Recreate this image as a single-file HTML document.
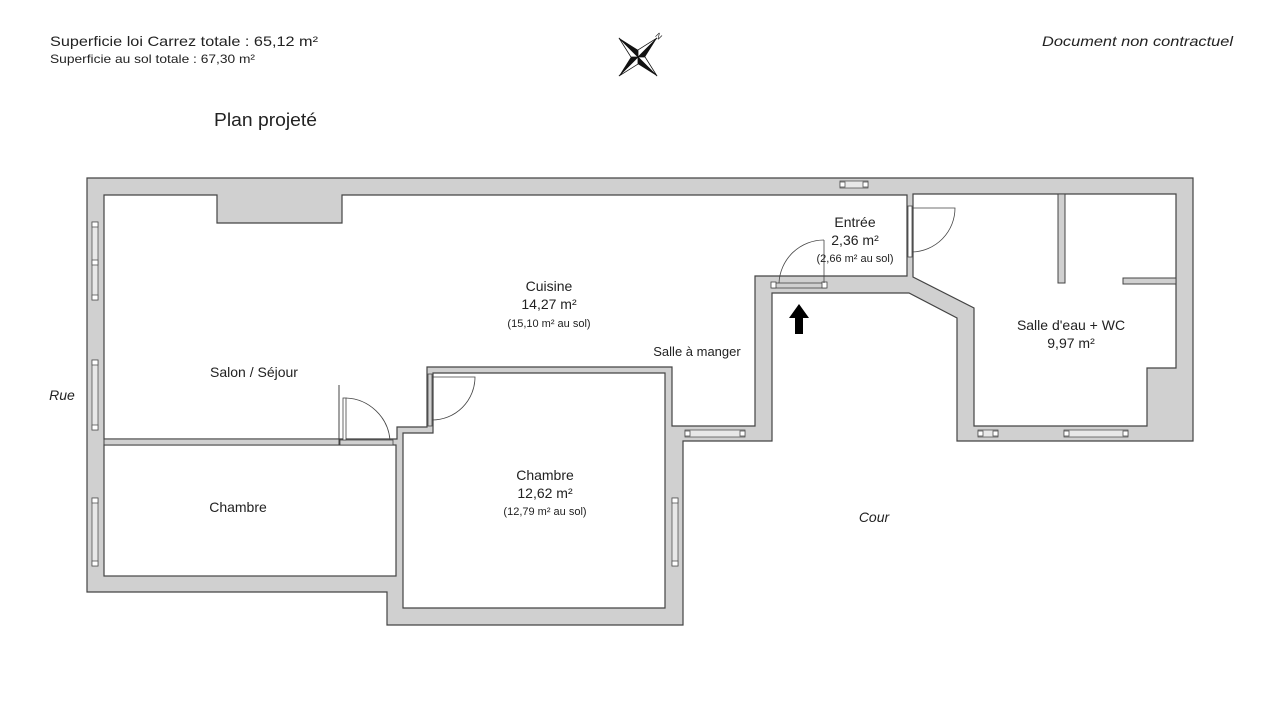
<!DOCTYPE html>
<html><head><meta charset="utf-8"><style>
html,body{margin:0;padding:0;background:#fff;}
svg{display:block;}
text{font-family:"Liberation Sans",sans-serif;fill:#222;}
</style></head><body>
<svg width="1280" height="720" viewBox="0 0 1280 720" xmlns="http://www.w3.org/2000/svg">
<rect width="1280" height="720" fill="#fff"/>
<!-- header -->
<text x="50" y="46" font-size="14" textLength="268" lengthAdjust="spacingAndGlyphs">Superficie loi Carrez totale :  65,12 m²</text>
<text x="50" y="63" font-size="12" textLength="205" lengthAdjust="spacingAndGlyphs">Superficie au sol totale :  67,30 m²</text>
<text x="1233" y="46" font-size="14" font-style="italic" text-anchor="end" textLength="191" lengthAdjust="spacingAndGlyphs">Document non contractuel</text>
<text x="214" y="126" font-size="18" textLength="103" lengthAdjust="spacingAndGlyphs">Plan projeté</text>
<!-- compass -->
<g transform="translate(638,57) rotate(45)">
<polygon points="0,-27 5,-5 0,0" fill="#111"/><polygon points="0,-27 -5,-5 0,0" fill="#fff" stroke="#111" stroke-width="0.8"/>
<polygon points="0,27 -5,5 0,0" fill="#111"/><polygon points="0,27 5,5 0,0" fill="#fff" stroke="#111" stroke-width="0.8"/>
<polygon points="27,0 5,5 0,0" fill="#111"/><polygon points="27,0 5,-5 0,0" fill="#fff" stroke="#111" stroke-width="0.8"/>
<polygon points="-27,0 -5,-5 0,0" fill="#111"/><polygon points="-27,0 -5,5 0,0" fill="#fff" stroke="#111" stroke-width="0.8"/>
</g>
<text x="656" y="39" font-size="8" transform="rotate(45 659 36)">N</text>

<!-- outer walls -->
<polygon points="87,178 1193,178 1193,441 957,441 957,318 909,293 772,293 772,441 683,441 683,625 387,625 387,592 87,592" fill="#d0d0d0" stroke="#444" stroke-width="1.2"/>
<!-- main room -->
<polygon points="104,195 217,195 217,223 342,223 342,195 907,195 907,276 755,276 755,426 683,426 672,426 672,367 427,367 427,427 397,427 397,439 104,439" fill="#fff" stroke="#444" stroke-width="1.2"/>
<!-- chambre 1 -->
<rect x="104" y="445" width="292" height="131" fill="#fff" stroke="#444" stroke-width="1.2"/>
<!-- chambre 2 -->
<polygon points="433,373 665,373 665,608 403,608 403,433 433,433" fill="#fff" stroke="#444" stroke-width="1.2"/>
<!-- bathroom -->
<polygon points="913,194 1176,194 1176,368 1147,368 1147,426 974,426 974,308 913,277" fill="#fff" stroke="#444" stroke-width="1.2"/>
<rect x="1058" y="194" width="7" height="89" fill="#d0d0d0" stroke="#444" stroke-width="1"/>
<rect x="1123" y="278" width="53" height="6" fill="#d0d0d0" stroke="#444" stroke-width="1"/>
<!-- salon/chambre partition -->
<rect x="104" y="439" width="236" height="6" fill="#d0d0d0" stroke="#444" stroke-width="1"/>
<!-- salon door -->
<line x1="339" y1="385" x2="339" y2="445" stroke="#444" stroke-width="1"/>
<rect x="340" y="440" width="53" height="5" fill="#d0d0d0" stroke="#444" stroke-width="0.8"/>
<rect x="343" y="398" width="3" height="42" fill="#fff" stroke="#444" stroke-width="0.8"/>
<path d="M346,398 A46,46 0 0 1 390,440" fill="none" stroke="#444" stroke-width="0.8"/>
<!-- chambre2 door -->
<rect x="428" y="374" width="4" height="52" fill="#d0d0d0" stroke="#444" stroke-width="0.8"/>
<path d="M432,377 L475,377 A43,43 0 0 1 432,420" fill="none" stroke="#444" stroke-width="0.8"/>
<!-- entrée/bath door -->
<rect x="908" y="206" width="4" height="51" fill="#fff" stroke="#444" stroke-width="0.8"/>
<path d="M912,208 L955,208 A44,44 0 0 1 912,252" fill="none" stroke="#444" stroke-width="0.8"/>
<!-- entry door -->
<rect x="772" y="283" width="54" height="5" fill="#d0d0d0" stroke="#444" stroke-width="0.8"/>
<rect x="771" y="282" width="5" height="6" fill="#fff" stroke="#444" stroke-width="0.8"/>
<rect x="822" y="282" width="5" height="6" fill="#fff" stroke="#444" stroke-width="0.8"/>
<line x1="824" y1="240" x2="824" y2="283" stroke="#444" stroke-width="0.8"/>
<path d="M824,240 A45,45 0 0 0 779,283" fill="none" stroke="#444" stroke-width="0.8"/>
<!-- windows -->
<g fill="#e8e8e8" stroke="#555" stroke-width="0.8">
<rect x="92" y="222" width="6" height="78"/><rect x="92" y="360" width="6" height="70"/>
<rect x="92" y="498" width="6" height="68"/><rect x="672" y="498" width="6" height="68"/>
<rect x="840" y="181" width="28" height="7"/>
<rect x="685" y="430" width="60" height="7"/>
<rect x="978" y="430" width="20" height="7"/><rect x="1064" y="430" width="64" height="7"/>
</g>
<g fill="#fff" stroke="#555" stroke-width="0.8">
<rect x="92" y="222" width="6" height="5"/><rect x="92" y="260" width="6" height="5"/><rect x="92" y="295" width="6" height="5"/>
<rect x="92" y="360" width="6" height="5"/><rect x="92" y="425" width="6" height="5"/>
<rect x="92" y="498" width="6" height="5"/><rect x="92" y="561" width="6" height="5"/>
<rect x="672" y="498" width="6" height="5"/><rect x="672" y="561" width="6" height="5"/>
<rect x="840" y="182" width="5" height="5"/><rect x="863" y="182" width="5" height="5"/>
<rect x="685" y="431" width="5" height="5"/><rect x="740" y="431" width="5" height="5"/>
<rect x="978" y="431" width="5" height="5"/><rect x="993" y="431" width="5" height="5"/>
<rect x="1064" y="431" width="5" height="5"/><rect x="1123" y="431" width="5" height="5"/>
</g>
<!-- arrow -->
<polygon points="799,304 809,318 803,318 803,334 795,334 795,318 789,318" fill="#000"/>
<!-- labels -->
<g font-size="14" text-anchor="middle">
<text x="254" y="377">Salon / Séjour</text>
<text x="549" y="291">Cuisine</text>
<text x="549" y="309">14,27 m²</text>
<text x="549" y="327" font-size="11">(15,10 m² au sol)</text>
<text x="697" y="356" font-size="13">Salle à manger</text>
<text x="855" y="227">Entrée</text>
<text x="855" y="245">2,36 m²</text>
<text x="855" y="262" font-size="11">(2,66 m² au sol)</text>
<text x="1071" y="330">Salle d'eau + WC</text>
<text x="1071" y="348">9,97 m²</text>
<text x="238" y="512">Chambre</text>
<text x="545" y="480">Chambre</text>
<text x="545" y="498">12,62 m²</text>
<text x="545" y="515" font-size="11">(12,79 m² au sol)</text>
<text x="62" y="400" font-style="italic">Rue</text>
<text x="874" y="522" font-style="italic">Cour</text>
</g>
</svg>
</body></html>
